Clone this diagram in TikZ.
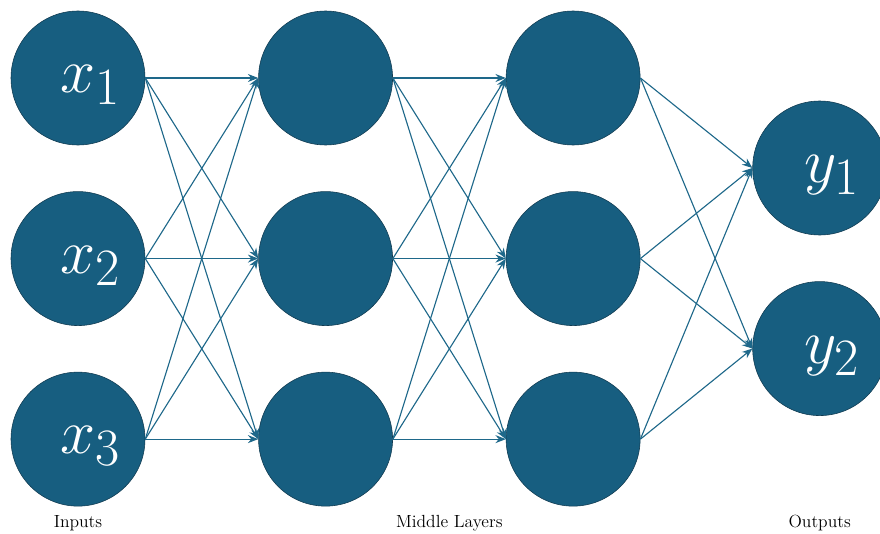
\documentclass[tikz,border=0pt]{standalone}
\usepackage{tikz}
\usetikzlibrary{arrows.meta,positioning,calc}
\definecolor{NeuronBlue}{RGB}{23,94,128}
\definecolor{NeuronEdge}{RGB}{16,58,80}
\definecolor{LinkBlue}{RGB}{30,104,138}
\tikzset{
  neuron/.style={circle,draw=NeuronEdge,fill=NeuronBlue,thin,
    minimum size=3.35cm,inner sep=0pt},
  varlabel/.style={text=white,font=\Huge,scale=1.8,transform shape,
    xshift=0.17cm,yshift=-0.1cm},
  layername/.style={font=\fontsize{12.5}{14}\selectfont,inner sep=0pt},
  link/.style={-{Stealth[length=2.6mm,width=2mm]},LinkBlue,line width=0.8pt}
}
\begin{document}
\begin{tikzpicture}
      \useasboundingbox (0,0) rectangle (22,13.325);
      % input layer
      \node[neuron,label={[varlabel]center:$x_1$}] (x1) at (1.95,11.375) {};
      \node[neuron,below=1.15cm of x1,label={[varlabel]center:$x_2$}] (x2) {};
      \node[neuron,below=1.15cm of x2,label={[varlabel]center:$x_3$}] (x3) {};
      % middle layers
      \node[neuron,right=2.825cm of x1] (a1) {};
      \node[neuron,below=1.15cm of a1] (a2) {};
      \node[neuron,below=1.15cm of a2] (a3) {};
      \node[neuron,right=2.825cm of a1] (b1) {};
      \node[neuron,below=1.15cm of b1] (b2) {};
      \node[neuron,below=1.15cm of b2] (b3) {};
      % output layer
      \node[neuron,right=2.8cm of b1,yshift=-2.25cm,
        label={[varlabel]center:$y_1$}] (y1) {};
      \node[neuron,below=1.15cm of y1,label={[varlabel]center:$y_2$}] (y2) {};

      \node[layername] (inputs) at ($(x3.south)+(0,-0.42)$) {Inputs};
      \node[layername] (middle) at ($(a3.south)!.5!(b3.south)+(0,-0.42)$)
        {Middle Layers};
      \node[layername] (outputs) at ($(inputs)!(y2)!(middle)$) {Outputs};

      \draw[link] (x1.east) -- (a1.west);
      \draw[link] (x1.east) -- (a2.west);
      \draw[link] (x1.east) -- (a3.west);
      \draw[link] (x2.east) -- (a1.west);
      \draw[link] (x2.east) -- (a2.west);
      \draw[link] (x2.east) -- (a3.west);
      \draw[link] (x3.east) -- (a1.west);
      \draw[link] (x3.east) -- (a2.west);
      \draw[link] (x3.east) -- (a3.west);
      \draw[link] (a1.east) -- (b1.west);
      \draw[link] (a1.east) -- (b2.west);
      \draw[link] (a1.east) -- (b3.west);
      \draw[link] (a2.east) -- (b1.west);
      \draw[link] (a2.east) -- (b2.west);
      \draw[link] (a2.east) -- (b3.west);
      \draw[link] (a3.east) -- (b1.west);
      \draw[link] (a3.east) -- (b2.west);
      \draw[link] (a3.east) -- (b3.west);
      \draw[link] (b1.east) -- (y1.west);
      \draw[link] (b1.east) -- (y2.west);
      \draw[link] (b2.east) -- (y1.west);
      \draw[link] (b2.east) -- (y2.west);
      \draw[link] (b3.east) -- (y1.west);
      \draw[link] (b3.east) -- (y2.west);
    \end{tikzpicture}
\end{document}
